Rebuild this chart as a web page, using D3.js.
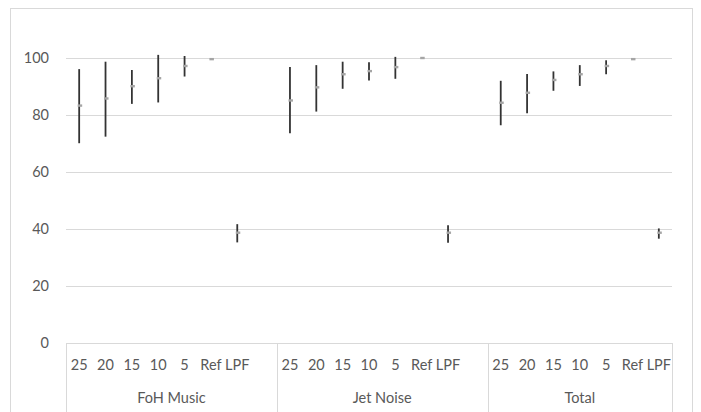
<!DOCTYPE html>
<html>
<head>
<meta charset="utf-8">
<script src="https://cdn.jsdelivr.net/npm/d3@7"></script>
<style>
  html, body { margin: 0; padding: 0; background: #fff; }
  svg { display: block; }
  text { font-family: Lato, "Open Sans", sans-serif; fill: #595959; }
</style>
</head>
<body>
<svg id="chart" width="701" height="412"></svg>
<script>
// ---- data ----
const groups = ["FoH Music", "Jet Noise", "Total"];
const levels = ["25", "20", "15", "10", "5", "Ref", "LPF"];
const yTicks = [0, 20, 40, 60, 80, 100];

const fohMean  = [83.3, 85.8, 90.1, 92.9, 97.2, 99.6, 38.7];
const fohLow   = [70.1, 72.4, 83.9, 84.4, 93.5, 99.6, 35.3];
const fohHigh  = [96.1, 98.7, 95.8, 101.1, 100.7, 99.6, 41.7];

const jetMean  = [85.1, 89.7, 94.3, 95.4, 96.8, 100.0, 38.7];
const jetLow   = [73.6, 81.2, 89.2, 92.1, 92.7, 100.0, 35.2];
const jetHigh  = [96.8, 97.5, 98.7, 98.5, 100.4, 100.0, 41.3];

const totMean  = [84.3, 87.8, 92.3, 94.3, 97.2, 99.6, 38.7];
const totLow   = [76.4, 80.6, 88.5, 90.2, 94.3, 99.6, 36.6];
const totHigh  = [92.0, 94.4, 95.3, 97.5, 99.2, 99.6, 40.2];

const seriesMean = [fohMean, jetMean, totMean];
const seriesLow  = [fohLow, jetLow, totLow];
const seriesHigh = [fohHigh, jetHigh, totHigh];

// ---- layout ----
const svg = d3.select("#chart");
const plot = { left: 66, right: 672, top: 29.5, bottom: 343 };
const FS = "14.5px";

// category slots: each group followed by a blank spacer (except the last)
const slots = [];
groups.forEach((g, gi) => {
  levels.forEach(l => slots.push(g + "|" + l));
  if (gi < groups.length - 1) slots.push(g + "|_blank");
});

const x = d3.scaleBand().domain(slots).range([plot.left, plot.right]).padding(0);
const y = d3.scaleLinear().domain([0, 110]).range([plot.bottom, plot.top]);

// chart border
svg.append("rect")
  .attr("x", 10.5).attr("y", 8.5)
  .attr("width", 682).attr("height", 430)
  .attr("fill", "none").attr("stroke", "#d9d9d9").attr("stroke-width", 1);

// gridlines + y labels
const yAxis = d3.axisLeft(y).tickValues(yTicks)
  .tickSize(-(plot.right - plot.left)).tickPadding(17);
const gy = svg.append("g").attr("transform", `translate(${plot.left},0)`).call(yAxis);
gy.select(".domain").remove();
gy.selectAll(".tick line").attr("stroke", "#d9d9d9").attr("stroke-width", 1);
gy.selectAll(".tick text").style("font-size", FS).attr("fill", "#595959")
  .attr("font-family", "Lato, 'Open Sans', sans-serif");

// category axis (baseline)
svg.append("line")
  .attr("x1", plot.left).attr("x2", plot.right)
  .attr("y1", y(0) + 0.5).attr("y2", y(0) + 0.5)
  .attr("stroke", "#d9d9d9");

// group separators
const groupBounds = [];
groups.forEach((g, gi) => {
  const first = x(g + "|" + levels[0]);
  const lastKey = gi < groups.length - 1 ? g + "|_blank" : g + "|" + levels[levels.length - 1];
  const last = x(lastKey) + x.bandwidth();
  groupBounds.push([first, last]);
});
const sepXs = [groupBounds[0][0]].concat(groupBounds.map(b => b[1]));
svg.selectAll("line.sep").data(sepXs).enter().append("line")
  .attr("class", "sep")
  .attr("x1", d => Math.round(d) + 0.5).attr("x2", d => Math.round(d) + 0.5)
  .attr("y1", y(0)).attr("y2", 420)
  .attr("stroke", "#d9d9d9");

// tick labels
groups.forEach(g => {
  svg.selectAll(null).data(levels).enter().append("text")
    .attr("x", l => x(g + "|" + l) + x.bandwidth() / 2)
    .attr("y", 364.5)
    .attr("dy", "0.35em")
    .attr("text-anchor", "middle")
    .style("font-size", FS)
    .text(l => l);
});

// group labels
svg.selectAll("text.grp").data(groups).enter().append("text")
  .attr("class", "grp")
  .attr("x", (g, i) => (groupBounds[i][0] + groupBounds[i][1]) / 2)
  .attr("y", 398)
  .attr("dy", "0.35em")
  .attr("text-anchor", "middle")
  .style("font-size", FS)
  .text(g => g);

// points
const pts = [];
groups.forEach((g, gi) => {
  levels.forEach((l, li) => {
    pts.push({
      key: g + "|" + l,
      mean: seriesMean[gi][li],
      low: seriesLow[gi][li],
      high: seriesHigh[gi][li]
    });
  });
});

const cx = d => x(d.key) + x.bandwidth() / 2;

// error bars
svg.selectAll("line.err").data(pts.filter(d => d.high - d.low > 0.01)).enter().append("line")
  .attr("class", "err")
  .attr("x1", cx).attr("x2", cx)
  .attr("y1", d => y(d.high)).attr("y2", d => y(d.low))
  .attr("stroke", "#333333").attr("stroke-width", 1.8);

// mean markers
svg.selectAll("rect.mk").data(pts).enter().append("rect")
  .attr("class", "mk")
  .attr("x", d => cx(d) - 1.5).attr("y", d => y(d.mean) - 1.2)
  .attr("width", 4.5).attr("height", 2.4)
  .attr("fill", "#a5a5a5");
</script>
</body>
</html>
